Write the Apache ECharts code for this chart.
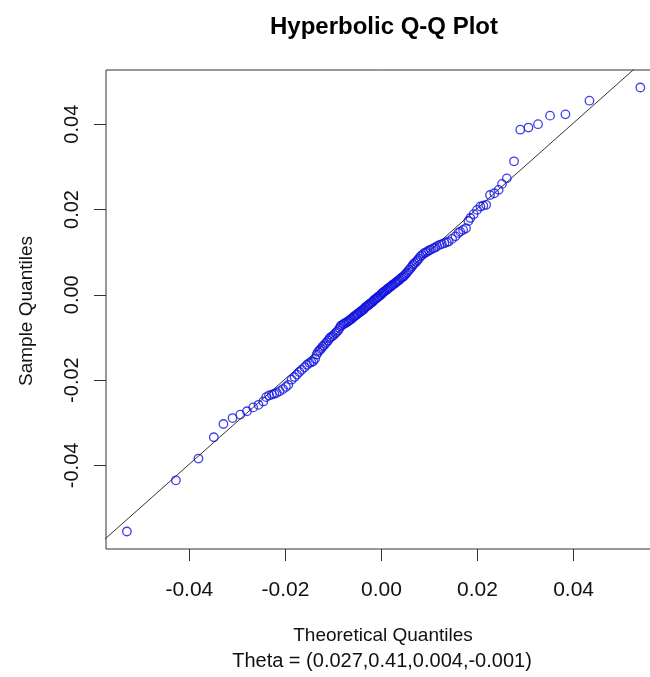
<!DOCTYPE html>
<html>
<head>
<meta charset="utf-8">
<script src="https://cdn.jsdelivr.net/npm/echarts@6/dist/echarts.min.js"></script>
<style>
  html, body { margin: 0; padding: 0; background: #fff; }
  #chart { width: 650px; height: 677px; }
</style>
</head>
<body>
<div id="chart"></div>
<script>
// ---- data ----
const theoretical = [
  -0.0530, -0.0428, -0.0381, -0.0349, -0.0329, -0.0310, -0.0294, -0.0280, -0.0267, -0.0256,
  -0.0246, -0.0240, -0.0234, -0.0228, -0.0223, -0.0218, -0.0212, -0.0205, -0.0199, -0.0194,
  -0.0187, -0.0181, -0.0176, -0.0171, -0.0166, -0.0160, -0.0155, -0.0150, -0.0146, -0.0142,
  -0.0138, -0.0135, -0.0132, -0.0129, -0.0126, -0.0123, -0.0120, -0.0117, -0.0114, -0.0111,
  -0.0108, -0.0105, -0.0102, -0.0099, -0.0096, -0.0093, -0.0090, -0.0087, -0.0085, -0.0082,
  -0.0079, -0.0077, -0.0074, -0.0072, -0.0069, -0.0067, -0.0064, -0.0062, -0.0059, -0.0057,
  -0.0055, -0.0052, -0.0050, -0.0048, -0.0045, -0.0043, -0.0041, -0.0038, -0.0036, -0.0034,
  -0.0032, -0.0029, -0.0027, -0.0025, -0.0023, -0.0020, -0.0018, -0.0016, -0.0014, -0.0011,
  -0.0009, -0.0007, -0.0005, -0.0002, 0.0000, 0.0002, 0.0004, 0.0006, 0.0009, 0.0011,
  0.0013, 0.0015, 0.0018, 0.0020, 0.0022, 0.0024, 0.0027, 0.0029, 0.0031, 0.0034,
  0.0036, 0.0038, 0.0041, 0.0043, 0.0046, 0.0048, 0.0051, 0.0053, 0.0056, 0.0058,
  0.0061, 0.0064, 0.0066, 0.0069, 0.0072, 0.0075, 0.0078, 0.0081, 0.0085, 0.0088,
  0.0092, 0.0095, 0.0099, 0.0103, 0.0108, 0.0112, 0.0116, 0.0121, 0.0126, 0.0131,
  0.0136, 0.0140, 0.0147, 0.0154, 0.0160, 0.0164, 0.0170, 0.0176, 0.0181, 0.0185,
  0.0192, 0.0199, 0.0206, 0.0212, 0.0218, 0.0226, 0.0235, 0.0244, 0.0251, 0.0261,
  0.0276, 0.0289, 0.0306, 0.0326, 0.0351, 0.0383, 0.0433, 0.0539
];
const sample = [
  -0.0555, -0.0435, -0.0384, -0.0334, -0.0303, -0.0289, -0.0281, -0.0273, -0.0264, -0.0258,
  -0.0250, -0.0240, -0.0236, -0.0234, -0.0232, -0.0230, -0.0226, -0.0221, -0.0216, -0.0211,
  -0.0199, -0.0193, -0.0187, -0.0181, -0.0176, -0.0170, -0.0164, -0.0160, -0.0158, -0.0156,
  -0.0150, -0.0140, -0.0134, -0.0130, -0.0127, -0.0122, -0.0119, -0.0115, -0.0111, -0.0107,
  -0.0102, -0.0099, -0.0097, -0.0094, -0.0090, -0.0087, -0.0083, -0.0078, -0.0073, -0.0071,
  -0.0069, -0.0067, -0.0066, -0.0064, -0.0062, -0.0060, -0.0058, -0.0056, -0.0053, -0.0051,
  -0.0049, -0.0047, -0.0045, -0.0043, -0.0041, -0.0039, -0.0037, -0.0035, -0.0033, -0.0030,
  -0.0028, -0.0026, -0.0024, -0.0022, -0.0020, -0.0018, -0.0016, -0.0013, -0.0011, -0.0009,
  -0.0007, -0.0005, -0.0003, -0.0001, 0.0002, 0.0004, 0.0006, 0.0008, 0.0010, 0.0012,
  0.0014, 0.0016, 0.0018, 0.0020, 0.0022, 0.0024, 0.0026, 0.0028, 0.0030, 0.0032,
  0.0034, 0.0036, 0.0039, 0.0041, 0.0043, 0.0046, 0.0049, 0.0052, 0.0056, 0.0059,
  0.0063, 0.0067, 0.0071, 0.0074, 0.0077, 0.0081, 0.0085, 0.0090, 0.0093, 0.0097,
  0.0099, 0.0101, 0.0104, 0.0106, 0.0109, 0.0111, 0.0114, 0.0117, 0.0119, 0.0121,
  0.0123, 0.0125, 0.0131, 0.0137, 0.0145, 0.0148, 0.0152, 0.0156, 0.0173, 0.0180,
  0.0189, 0.0199, 0.0207, 0.0209, 0.0211, 0.0234, 0.0238, 0.0246, 0.0260, 0.0273,
  0.0313, 0.0387, 0.0392, 0.0400, 0.0420, 0.0423, 0.0455, 0.0486
];
const xTickValues = [-0.04, -0.02, 0.00, 0.02, 0.04];
const yTickValues = [-0.04, -0.02, 0.00, 0.02, 0.04];
const xRange = [-0.05735, 0.0582];
const yRange = [-0.0596, 0.0527];
const refSlope = 1.0;
const refIntercept = 0.0003;
const titleText = 'Hyperbolic Q-Q Plot';
const xTitle = 'Theoretical Quantiles';
const yTitle = 'Sample Quantiles';
const subTitle = 'Theta = (0.027,0.41,0.004,-0.001)';

// ---- build ----
const points = theoretical.map((t, i) => [t, sample[i]]);
const refLine = [
  [xRange[0] - 0.01, refIntercept + refSlope * (xRange[0] - 0.01)],
  [xRange[1] + 0.01, refIntercept + refSlope * (xRange[1] + 0.01)]
];

const FONT = '"Liberation Sans", Arial, Helvetica, sans-serif';
const chart = echarts.init(document.getElementById('chart'), null, { renderer: 'canvas' });

chart.setOption({
  animation: false,
  backgroundColor: '#ffffff',
  title: {
    text: titleText,
    left: 379,
    top: 10,
    textAlign: 'center',
    textStyle: { fontFamily: FONT, fontSize: 24, fontWeight: 'bold', color: '#000' }
  },
  grid: {
    left: 106,
    top: 70,
    width: 555,
    height: 479,
    outerBoundsMode: 'none',
    show: true,
    borderColor: '#333',
    borderWidth: 1,
    backgroundColor: 'transparent',
    containLabel: false
  },
  xAxis: {
    type: 'value',
    min: xRange[0],
    max: xRange[1],
    axisLine: { show: false, onZero: false },
    splitLine: { show: false },
    axisTick: { show: true, customValues: xTickValues, length: 12, lineStyle: { color: '#333', width: 1 } },
    axisLabel: {
      customValues: xTickValues,
      margin: 31,
      fontFamily: FONT, fontSize: 21, color: '#111',
      formatter: v => v.toFixed(2)
    }
  },
  yAxis: {
    type: 'value',
    min: yRange[0],
    max: yRange[1],
    axisLine: { show: false, onZero: false },
    splitLine: { show: false },
    axisTick: { show: true, customValues: yTickValues, length: 12, lineStyle: { color: '#333', width: 1 } },
    axisLabel: {
      customValues: yTickValues,
      rotate: 90,
      margin: 24,
      fontFamily: FONT, fontSize: 20, color: '#111',
      formatter: v => v.toFixed(2)
    }
  },
  graphic: [
    {
      type: 'text', x: 383, y: 636,
      style: { text: xTitle, fontFamily: FONT, fontSize: 19, fill: '#111', textAlign: 'center', textVerticalAlign: 'middle' }
    },
    {
      type: 'text', x: 382, y: 661,
      style: { text: subTitle, fontFamily: FONT, fontSize: 20, fill: '#111', textAlign: 'center', textVerticalAlign: 'middle' }
    },
    {
      type: 'text', x: 27, y: 311, rotation: Math.PI / 2,
      style: { text: yTitle, fontFamily: FONT, fontSize: 19, fill: '#111', textAlign: 'center', textVerticalAlign: 'middle' }
    }
  ],
  series: [
    {
      type: 'line',
      data: refLine,
      showSymbol: false,
      symbol: 'none',
      clip: true,
      silent: true,
      lineStyle: { color: '#333', width: 1 },
      z: 1
    },
    {
      type: 'scatter',
      data: points,
      symbol: 'circle',
      symbolSize: 8.5,
      clip: true,
      itemStyle: { color: 'rgba(0,0,0,0)', borderColor: '#1010e0', borderWidth: 1.3 },
      z: 2
    }
  ]
});
</script>
</body>
</html>
